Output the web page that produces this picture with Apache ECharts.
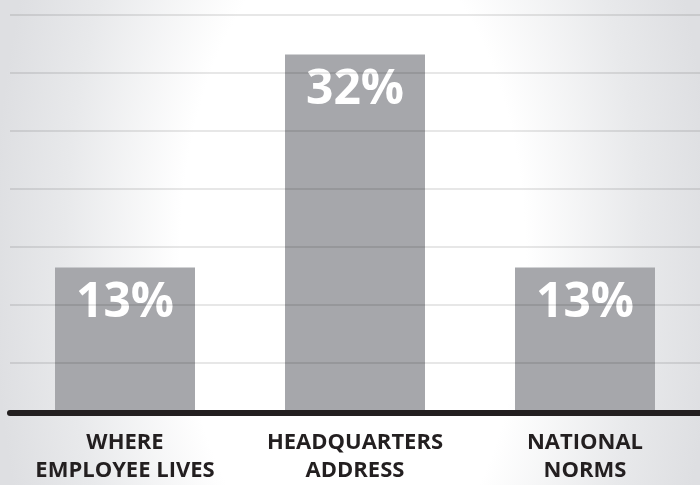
<!DOCTYPE html>
<html>
<head>
<meta charset="utf-8">
<script src="https://cdn.jsdelivr.net/npm/echarts@6/dist/echarts.min.js"></script>
<style>html,body{margin:0;padding:0;}#c{width:700px;height:485px;}</style>
</head>
<body>
<div id="c"></div>
<script>
const categories = ['WHERE\nEMPLOYEE LIVES', 'HEADQUARTERS\nADDRESS', 'NATIONAL\nNORMS'];
const values = [13, 32, 13];
const gridTicks = [0, 1, 2, 3, 4, 5, 6];

const sY = 1.897;
const chart = echarts.init(document.getElementById('c'));
chart.setOption({
  animation: false,
  backgroundColor: '#ffffff',
  graphic: [{
    type: 'rect', z: -100, silent: true,
    x: 0, y: 0, scaleY: sY,
    shape: { x: 0, y: 0, width: 700, height: 485 / sY },
    style: {
      fill: {
        type: 'radial', x: 0.504, y: 0.536, r: 1.408,
        colorStops: [
          { offset: 0, color: '#ffffff' },
          { offset: 0.48, color: '#ffffff' },
          { offset: 0.8, color: '#e8e9eb' },
          { offset: 1, color: '#dedfe2' }
        ]
      }
    }
  }],
  grid: [
    { left: 10, width: 695, top: 21, bottom: 72 },
    { left: 10, right: 0, top: 15, bottom: 122 }
  ],
  xAxis: [
    {
      type: 'category', gridIndex: 0, data: categories, offset: 3, z: 6,
      axisLine: { show: true, lineStyle: { color: '#231f20', width: 6 } },
      axisTick: { show: false },
      axisLabel: {
        color: '#231f20', fontFamily: 'Open Sans', fontWeight: 'bold',
        fontSize: 22, lineHeight: 28, margin: 13, interval: 0
      }
    },
    { type: 'value', gridIndex: 1, show: false, min: 0, max: 1 }
  ],
  yAxis: [
    { type: 'value', gridIndex: 0, min: 0, max: 35, show: false, splitLine: { show: false } },
    {
      type: 'value', gridIndex: 1, min: gridTicks[0], max: gridTicks[gridTicks.length - 1], interval: 1, z: 5,
      axisLine: { show: false }, axisTick: { show: false }, axisLabel: { show: false },
      splitLine: { show: true, lineStyle: { color: 'rgba(0,0,0,0.13)', width: 1.5 } }
    }
  ],
  series: [{
    type: 'bar', xAxisIndex: 0, yAxisIndex: 0, data: values, barWidth: 140,
    itemStyle: { color: '#a6a7ab' },
    label: {
      show: true, position: 'insideTop', distance: 12,
      formatter: '{c}%', color: '#ffffff', fontFamily: 'Open Sans',
      fontWeight: 'bold', fontSize: 48
    }
  }]
});
</script>
</body>
</html>
